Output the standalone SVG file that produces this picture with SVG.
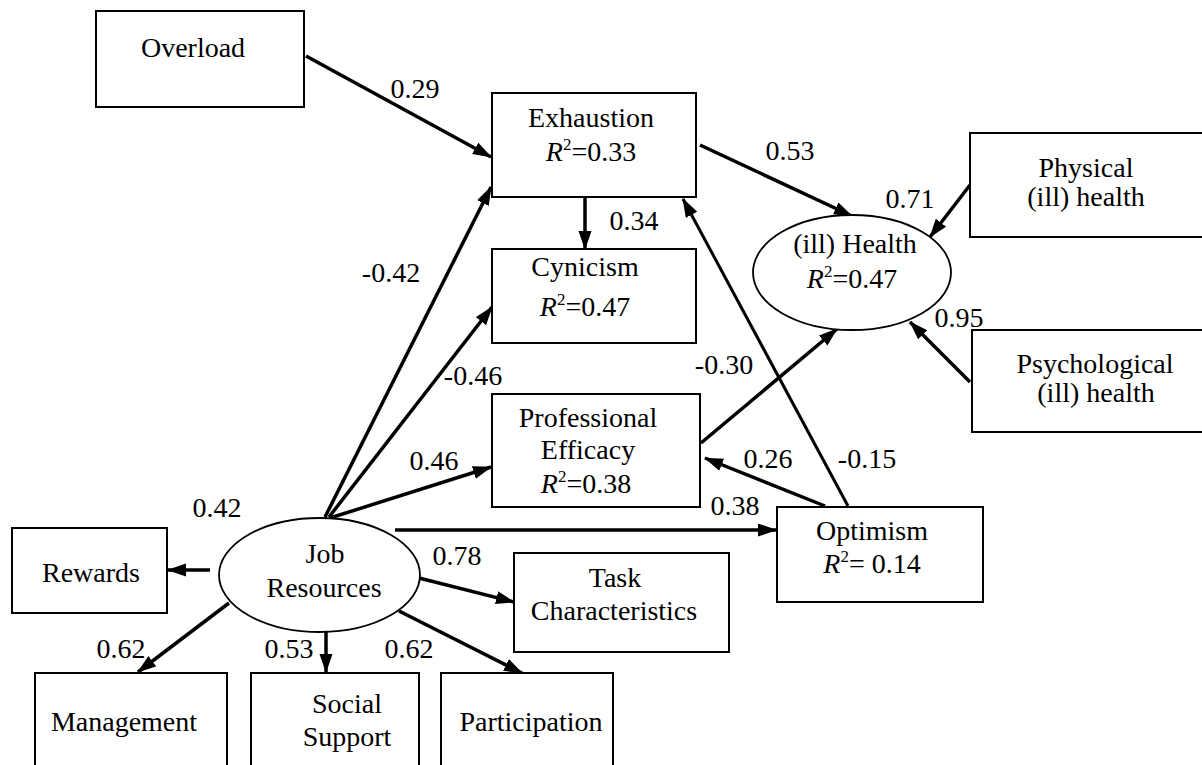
<svg xmlns="http://www.w3.org/2000/svg" width="1202" height="765" viewBox="0 0 1202 765">
<style>
.box{fill:#fff;stroke:#000;stroke-width:2}
.ell{fill:#fff;stroke:#000;stroke-width:1.8}
.t{font-family:"Liberation Serif","Times New Roman",serif;font-size:28px;text-anchor:middle;fill:#000}
.c{stroke:#000;stroke-width:3.5;fill:none;marker-end:url(#ah)}
.c2{stroke:#000;stroke-width:3;fill:none;marker-end:url(#ah)}
.sup{font-size:17px}
.it{font-style:italic}
</style>
<defs>
<marker id="ah" markerUnits="userSpaceOnUse" markerWidth="20" markerHeight="14" refX="18" refY="6.5" orient="auto">
<path d="M0,0 L19,6.5 L0,13 z" fill="#000"/>
</marker>
</defs>
<rect width="1202" height="765" fill="#fff"/>

<g id="connectors">
<line class="c" x1="306" y1="56" x2="491" y2="157"/>
<line class="c" x1="325" y1="517" x2="491" y2="187"/>
<line class="c" x1="329" y1="517" x2="492" y2="307"/>
<line class="c" x1="330" y1="518" x2="491" y2="467"/>
<line class="c" x1="585" y1="198" x2="585" y2="249"/>
<line class="c" x1="700" y1="145" x2="852" y2="216"/>
<line class="c" x1="970" y1="185" x2="930" y2="237"/>
<line class="c" x1="970" y1="382" x2="910" y2="322"/>
<line class="c" x1="701" y1="443" x2="837" y2="329"/>
<line class="c" x1="825" y1="506" x2="705" y2="458"/>
<line class="c2" x1="848" y1="506" x2="683" y2="199"/>
<line class="c" x1="395" y1="530" x2="776" y2="530"/>
<line class="c" x1="210" y1="570" x2="168" y2="570"/>
<line class="c" x1="419" y1="578" x2="514" y2="602"/>
<line class="c" x1="229" y1="603" x2="138" y2="672"/>
<line class="c" x1="326" y1="632" x2="326" y2="672"/>
<line class="c" x1="399" y1="611" x2="522" y2="673"/>
</g>

<g id="labels">
<text class="t" x="415" y="98">0.29</text>
<text class="t" x="790" y="160">0.53</text>
<text class="t" x="634" y="230">0.34</text>
<text class="t" x="910" y="208">0.71</text>
<text class="t" x="391" y="282">-0.42</text>
<text class="t" x="959" y="327">0.95</text>
<text class="t" x="724" y="374">-0.30</text>
<text class="t" x="473" y="385">-0.46</text>
<text class="t" x="434" y="470">0.46</text>
<text class="t" x="768" y="468">0.26</text>
<text class="t" x="867" y="468">-0.15</text>
<text class="t" x="217" y="517">0.42</text>
<text class="t" x="735" y="515">0.38</text>
<text class="t" x="457" y="565">0.78</text>
<text class="t" x="121" y="658">0.62</text>
<text class="t" x="289" y="658">0.53</text>
<text class="t" x="409" y="658">0.62</text>
</g>

<g id="overload">
<rect class="box" x="96" y="11" width="208" height="96"/>
<text class="t" x="193" y="57">Overload</text>
</g>

<g id="exhaustion">
<rect class="box" x="492" y="93" width="204" height="104"/>
<text class="t" x="591" y="127">Exhaustion</text>
<text class="t" x="591" y="161"><tspan class="it">R</tspan><tspan class="sup" dy="-11">2</tspan><tspan dy="11">=0.33</tspan></text>
</g>

<g id="cynicism">
<rect class="box" x="492" y="249" width="204" height="94"/>
<text class="t" x="585" y="276">Cynicism</text>
<text class="t" x="585" y="316"><tspan class="it">R</tspan><tspan class="sup" dy="-11">2</tspan><tspan dy="11">=0.47</tspan></text>
</g>

<g id="professional-efficacy">
<rect class="box" x="492" y="394" width="208" height="113"/>
<text class="t" x="588" y="427">Professional</text>
<text class="t" x="588" y="459">Efficacy</text>
<text class="t" x="586" y="493"><tspan class="it">R</tspan><tspan class="sup" dy="-11">2</tspan><tspan dy="11">=0.38</tspan></text>
</g>

<g id="health">
<ellipse class="ell" cx="852" cy="272.5" rx="99" ry="57.5"/>
<text class="t" x="855" y="253">(ill) Health</text>
<text class="t" x="852" y="288"><tspan class="it">R</tspan><tspan class="sup" dy="-11">2</tspan><tspan dy="11">=0.47</tspan></text>
</g>

<g id="physical">
<rect class="box" x="970" y="133" width="250" height="104"/>
<text class="t" x="1086" y="177">Physical</text>
<text class="t" x="1086" y="206">(ill) health</text>
</g>

<g id="psychological">
<rect class="box" x="972" y="330" width="250" height="102"/>
<text class="t" x="1095" y="373">Psychological</text>
<text class="t" x="1096" y="402">(ill) health</text>
</g>

<g id="optimism">
<rect class="box" x="777" y="507" width="206" height="95"/>
<text class="t" x="872" y="540">Optimism</text>
<text class="t" x="872" y="573"><tspan class="it">R</tspan><tspan class="sup" dy="-11">2</tspan><tspan dy="11">= 0.14</tspan></text>
</g>

<g id="job-resources">
<ellipse class="ell" cx="319.5" cy="575" rx="100.5" ry="57"/>
<text class="t" x="325" y="563">Job</text>
<text class="t" x="324" y="597">Resources</text>
</g>

<g id="rewards">
<rect class="box" x="12" y="528" width="155" height="85"/>
<text class="t" x="91" y="582">Rewards</text>
</g>

<g id="task-characteristics">
<rect class="box" x="514" y="553" width="215" height="99"/>
<text class="t" x="615" y="587">Task</text>
<text class="t" x="614" y="620">Characteristics</text>
</g>

<g id="management">
<rect class="box" x="35" y="673" width="192" height="110"/>
<text class="t" x="124" y="731">Management</text>
</g>

<g id="social-support">
<rect class="box" x="251" y="673" width="168" height="110"/>
<text class="t" x="347" y="713">Social</text>
<text class="t" x="347" y="746">Support</text>
</g>

<g id="participation">
<rect class="box" x="441" y="673" width="172" height="110"/>
<text class="t" x="531" y="731">Participation</text>
</g>
</svg>
